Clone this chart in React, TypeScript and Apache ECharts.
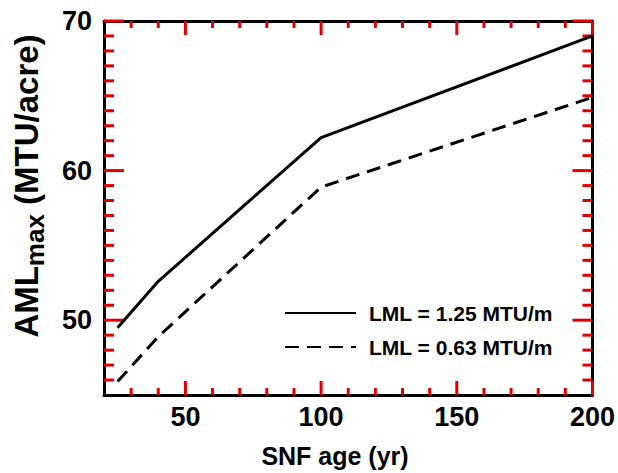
import React, { useEffect, useRef } from "react";
import * as echarts from "echarts";

const ages = [25, 40, 100, 200];
const lmlHigh = [49.5, 52.6, 62.2, 69.0];
const lmlLow = [45.9, 48.9, 58.9, 64.9];
const seriesNames = ["LML = 1.25 MTU/m", "LML = 0.63 MTU/m"];
const xMajorTicks = [50, 100, 150, 200];
const xMinorTicks = [30, 40, 60, 70, 80, 90, 110, 120, 130, 140, 160, 170, 180, 190];
const yMajorTicks = [50, 60, 70];
const yMinorTicks = [46, 47, 48, 49, 51, 52, 53, 54, 55, 56, 57, 58, 59, 61, 62, 63, 64, 65, 66, 67, 68, 69];

const X_MIN = 20;
const X_MAX = 200;
const Y_MIN = 45;
const Y_MAX = 70;

const FONT = "Liberation Sans, Arial, Helvetica, sans-serif";

export default function App() {
  const ref = useRef<HTMLDivElement>(null);
  useEffect(() => {
    if (!ref.current) return;
    const chart = echarts.init(ref.current, undefined, { renderer: "svg" });
    const black = "#000";
    const tickColor = "#e00000";
    const axisLine = { show: true, onZero: false, lineStyle: { color: black, width: 3 } };
    const labelStyle = { color: black, fontFamily: FONT, fontWeight: "bold", fontSize: 27 };

    const xTickData = [
      ...xMajorTicks.map((v) => [v, 14]),
      ...xMinorTicks.map((v) => [v, 7]),
    ];
    const yTickData = [
      ...yMajorTicks.map((v) => [v, 20]),
      ...yMinorTicks.map((v) => [v, 10]),
    ];

    chart.setOption({
      animation: false,
      grid: { left: 104, right: 17, top: 21, bottom: 78 },
      xAxis: [
        {
          type: "value",
          position: "bottom",
          min: X_MIN,
          max: X_MAX,
          axisLine,
          axisTick: { show: false },
          axisLabel: { show: true, customValues: xMajorTicks, margin: 8, ...labelStyle },
          splitLine: { show: false },
        },
        {
          type: "value",
          position: "top",
          min: X_MIN,
          max: X_MAX,
          axisLine,
          axisTick: { show: false },
          axisLabel: { show: false },
          splitLine: { show: false },
        },
      ],
      yAxis: [
        {
          type: "value",
          position: "left",
          min: Y_MIN,
          max: Y_MAX,
          axisLine,
          axisTick: { show: false },
          axisLabel: { show: true, customValues: yMajorTicks, margin: 12, ...labelStyle },
          splitLine: { show: false },
        },
        {
          type: "value",
          position: "right",
          min: Y_MIN,
          max: Y_MAX,
          axisLine,
          axisTick: { show: false },
          axisLabel: { show: false },
          splitLine: { show: false },
        },
      ],
      legend: {
        show: true,
        orient: "vertical",
        left: 279,
        top: 296,
        itemWidth: 71,
        itemHeight: 14,
        itemGap: 10,
        itemStyle: { opacity: 0 },
        textStyle: {
          color: black,
          fontFamily: FONT,
          fontWeight: "bold",
          fontSize: 21,
          lineHeight: 24,
          padding: [0, 0, 0, 8],
        },
        data: seriesNames,
      },
      series: [
        {
          name: seriesNames[0],
          type: "line",
          data: ages.map((a, i) => [a, lmlHigh[i]]),
          symbol: "none",
          lineStyle: { color: black, width: 3, type: "solid" },
          itemStyle: { color: black },
        },
        {
          name: seriesNames[1],
          type: "line",
          data: ages.map((a, i) => [a, lmlLow[i]]),
          symbol: "none",
          lineStyle: { color: black, width: 3, type: [14, 8] },
          itemStyle: { color: black },
        },
        {
          name: "xTicks",
          type: "custom",
          data: xTickData,
          renderItem: (_p: any, api: any) => {
            const v = api.value(0);
            const len = api.value(1);
            const b = api.coord([v, Y_MIN]);
            const t = api.coord([v, Y_MAX]);
            return {
              type: "polyline",
              shape: { points: [[b[0], b[1] - len], [b[0], b[1]], [b[0], b[1]], [t[0], t[1]], [t[0], t[1]], [t[0], t[1] + len]] },
              style: { stroke: "none", fill: "none" },
            };
          },
        },
        {
          name: "xTicksB",
          type: "custom",
          data: xTickData,
          renderItem: (_p: any, api: any) => {
            const v = api.value(0);
            const len = api.value(1);
            const b = api.coord([v, Y_MIN]);
            return { type: "rect", shape: { x: b[0] - 1.5, y: b[1] - len, width: 3, height: len }, style: { fill: tickColor } };
          },
        },
        {
          name: "xTicksT",
          type: "custom",
          data: xTickData,
          renderItem: (_p: any, api: any) => {
            const v = api.value(0);
            const len = api.value(1);
            const t = api.coord([v, Y_MAX]);
            return { type: "rect", shape: { x: t[0] - 1.5, y: t[1], width: 3, height: len }, style: { fill: tickColor } };
          },
        },
        {
          name: "yTicksL",
          type: "custom",
          data: yTickData.map((d) => [X_MIN, d[0], d[1]]),
          renderItem: (_p: any, api: any) => {
            const v = api.value(1);
            const len = api.value(2);
            const l = api.coord([X_MIN, v]);
            return { type: "rect", shape: { x: l[0], y: l[1] - 1.5, width: len, height: 3 }, style: { fill: tickColor } };
          },
        },
        {
          name: "yTicksR",
          type: "custom",
          data: yTickData.map((d) => [X_MAX, d[0], d[1]]),
          renderItem: (_p: any, api: any) => {
            const v = api.value(1);
            const len = api.value(2);
            const r = api.coord([X_MAX, v]);
            return { type: "rect", shape: { x: r[0] - len, y: r[1] - 1.5, width: len, height: 3 }, style: { fill: tickColor } };
          },
        },
      ],
      graphic: [
        {
          type: "text",
          x: 335,
          y: 456,
          style: {
            text: "SNF age (yr)",
            fill: black,
            font: `bold 25px ${FONT}`,
            align: "center",
            verticalAlign: "middle",
          },
        },
        {
          type: "text",
          x: 24,
          y: 186,
          rotation: Math.PI / 2,
          style: {
            text: "{a|AML}{b|max}{a| (MTU/acre)}",
            fill: black,
            align: "center",
            verticalAlign: "middle",
            rich: {
              a: { fontFamily: FONT, fontWeight: "bold", fontSize: 33, fill: black, lineHeight: 37, verticalAlign: "bottom" },
              b: { fontFamily: FONT, fontWeight: "bold", fontSize: 26, fill: black, lineHeight: 31, verticalAlign: "bottom", padding: [0, 0, -5, 0] },
            },
          },
        },
      ],
    });
    return () => chart.dispose();
  }, []);
  return <div ref={ref} style={{ width: 618, height: 473, position: "absolute", left: 0, top: 0 }} />;
}
